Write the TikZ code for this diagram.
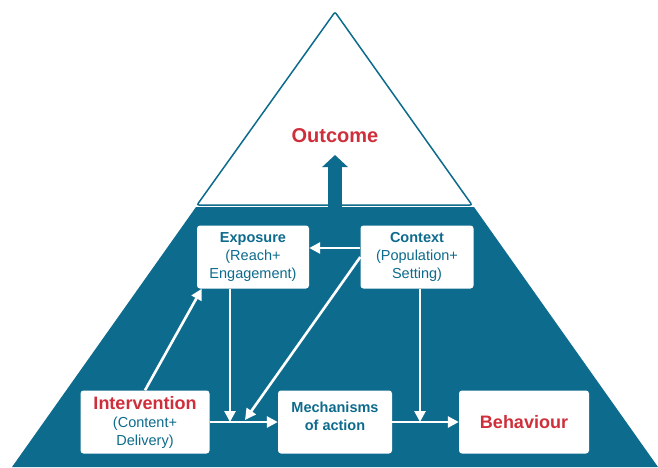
\documentclass[tikz,border=0pt]{standalone}
\usepackage{fontspec}
\setmainfont{Liberation Sans}
\usetikzlibrary{arrows.meta,positioning}
\definecolor{petrol}{HTML}{0D6B8D}
\definecolor{crimson}{HTML}{CF2F3B}

\begin{document}
\begin{tikzpicture}[x=1pt,y=1pt,
  box/.style={fill=white,rounded corners=3pt,align=center,text=petrol,font=\fontsize{14.5}{18}\selectfont,minimum height=63pt,inner sep=2pt},
  title/.style={font=\fontsize{18}{21}\selectfont\bfseries,text=crimson},
  flow/.style={draw=white,line width=2.6pt,-{Triangle[length=11pt,width=11pt]}}]
\useasboundingbox (0,0) rectangle (658,-467);
\draw [petrol,line width=1.5pt,rounded corners=2pt,fill=white] (335,-12) -- (472,-205) -- (197,-205) -- cycle;
\fill [petrol] (196,-207) -- (474,-207) -- (658,-467) -- (12,-467) -- cycle;
\coordinate (stem) at (335,-208);
\coordinate (tip) at (335,-155);
\coordinate (j1) at (230,-422);
\coordinate (j2) at (245,-420);
\coordinate (j3) at (420,-422);
\node [title,font=\fontsize{20}{22}\selectfont\bfseries] (outcome) at (335,-136) {Outcome};
\node [box,minimum width=112pt] (exposure) at (253,-257) {\textbf{Exposure}\\(Reach+\\Engagement)};
\node [box,minimum width=113pt] (context) at (417,-257) {\textbf{Context}\\(Population+\\Setting)};
\node [box,minimum width=129pt] (intervention) at (145,-422) {{\fontsize{18}{20}\selectfont\bfseries\color{crimson}Intervention}\\(Content+\\Delivery)};
\node [box,minimum width=114pt] (mechanisms) at (335,-422) {\textbf{Mechanisms}\\\textbf{of action}\\[-6pt]\mbox{}};
\node [box,title,minimum width=130pt] (behaviour) at (524,-422) {Behaviour};
\draw [petrol,line width=14pt,-{Triangle[length=12pt,width=25pt]}] (stem) -- (tip);
\draw [flow] (intervention.east) -- (mechanisms.west);
\draw [flow] (mechanisms.east) -- (behaviour.west);
\draw [flow] ([yshift=9pt]context.west) -- ([yshift=9pt]exposure.east);
\draw [flow] (intervention.north) -- ([xshift=5pt]exposure.south west);
\draw [flow] (exposure.south -| j1) -- (j1);
\draw [flow] (context.west) -- (j2);
\draw [flow] (context.south -| j3) -- (j3);
\end{tikzpicture}
\end{document}
